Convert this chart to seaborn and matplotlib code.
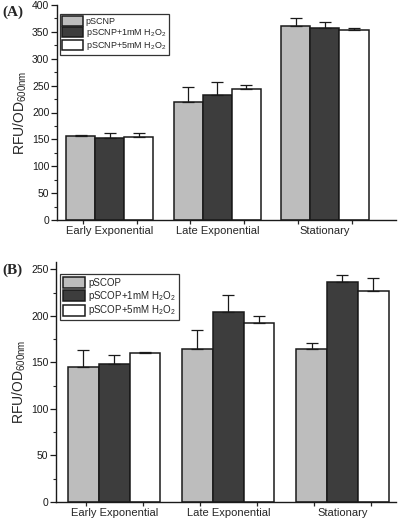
import matplotlib
matplotlib.use("Agg")
import matplotlib.pyplot as plt
import seaborn as sns
import pandas as pd
import numpy as np
from matplotlib.ticker import MultipleLocator, FixedLocator

phases = ["Early Exponential", "Late Exponential", "Stationary"]

# Panel A
a_series = ["pSCNP", r"pSCNP+1mM H$_\mathregular{2}$O$_\mathregular{2}$", r"pSCNP+5mM H$_\mathregular{2}$O$_\mathregular{2}$"]
a_ctrl = [157, 219, 361]
a_1mM = [152, 233, 358]
a_5mM = [155, 244, 353]
a_ctrl_err = [2, 29, 14]
a_1mM_err = [10, 24, 10]
a_5mM_err = [7, 8, 4]

# Panel B
b_series = ["pSCOP", r"pSCOP+1mM H$_\mathregular{2}$O$_\mathregular{2}$", r"pSCOP+5mM H$_\mathregular{2}$O$_\mathregular{2}$"]
b_ctrl = [145, 165, 165]
b_1mM = [148, 204, 236]
b_5mM = [160, 192, 227]
b_ctrl_err = [18, 20, 6]
b_1mM_err = [10, 18, 8]
b_5mM_err = [1, 8, 14]

colors = ["#bdbdbd", "#3d3d3d", "#ffffff"]

sns.set_theme(style="ticks")
plt.rcParams["font.family"] = ["Liberation Sans", "DejaVu Sans"]
plt.rcParams["mathtext.fontset"] = "custom"
plt.rcParams["mathtext.rm"] = "Liberation Sans"

fig = plt.figure(figsize=(4.0, 5.21), dpi=100)
axA = fig.add_axes([57/400, 1-220/521, (396-57)/400, (220-5)/521])
axB = fig.add_axes([56/400, 1-502/521, (396-56)/400, (502-262)/521])


def panel(ax, series, vals, errs, ylim, xlim, legfs, legpos):
    rows = []
    for s, v, e in zip(series, vals, errs):
        for p, vv, ee in zip(phases, v, e):
            rows.append({"phase": p, "series": s, "value": vv, "err": ee})
    df = pd.DataFrame(rows)
    sns.barplot(data=df, x="phase", y="value", hue="series", order=phases,
                hue_order=series, palette=colors, edgecolor="#1a1a1a",
                linewidth=1.1, errorbar=None, width=0.81, ax=ax, saturation=1)
    # error bars (upper only) at bar positions from the library
    bars = [p for p in ax.patches if p.get_height() > 0][:9]
    for i, s in enumerate(series):
        for j in range(3):
            b = bars[i * 3 + j]
            xc = b.get_x() + b.get_width() / 2
            top = b.get_height()
            e = errs[i][j]
            ax.errorbar([xc], [top], yerr=[[0], [e]], fmt="none", ecolor="#1a1a1a",
                        elinewidth=0.9, capsize=4.5, capthick=0.9, zorder=1)
    ax.set_ylim(*ylim)
    ax.set_xlim(*xlim)
    ax.set_xlabel("")
    ax.set_ylabel(r"RFU/OD$_\mathregular{600nm}$", fontsize=10, labelpad=2)
    ax.yaxis.set_major_locator(MultipleLocator(50))
    ax.yaxis.set_minor_locator(MultipleLocator(25))
    ax.tick_params(axis="y", which="major", length=4, width=0.9, labelsize=7.5, pad=1.5, colors="#1a1a1a")
    ax.tick_params(axis="y", which="minor", length=2, width=0.8)
    ax.set_xticks(range(3))
    ax.set_xticklabels(phases, fontsize=8)
    ax.tick_params(axis="x", which="major", length=0, pad=4)
    ax.xaxis.set_minor_locator(FixedLocator([k + d for k in range(3) for d in (-0.25, 0.25)]))
    ax.tick_params(axis="x", which="minor", direction="inout", length=6, width=0.9)
    for sp in ["top", "right"]:
        ax.spines[sp].set_visible(False)
    for sp in ["left", "bottom"]:
        ax.spines[sp].set_linewidth(1.0)
        ax.spines[sp].set_color("#1a1a1a")
    leg = ax.legend(loc="upper left", bbox_to_anchor=legpos, fontsize=legfs, frameon=True,
                    fancybox=False, edgecolor="#333333", borderpad=0.3, labelspacing=0.08,
                    handlelength=2.3, handleheight=1.35, handletextpad=0.3, borderaxespad=0)
    leg.get_frame().set_linewidth(0.9)
    leg.get_frame().set_alpha(1)


panel(axA, a_series, [a_ctrl, a_1mM, a_5mM], [a_ctrl_err, a_1mM_err, a_5mM_err],
      (0, 400), (-0.49, 2.66), 6.5, (0.008, 0.96))
panel(axB, b_series, [b_ctrl, b_1mM, b_5mM], [b_ctrl_err, b_1mM_err, b_5mM_err],
      (0, 258), (-0.51, 2.47), 7, (0.012, 0.95))

fig.text(2/400, 1-12/521, "(A)", fontsize=11, fontweight="bold", family="Liberation Serif", va="center")
fig.text(2/400, 1-270/521, "(B)", fontsize=11, fontweight="bold", family="Liberation Serif", va="center")

fig.savefig("out.png", dpi=100)
